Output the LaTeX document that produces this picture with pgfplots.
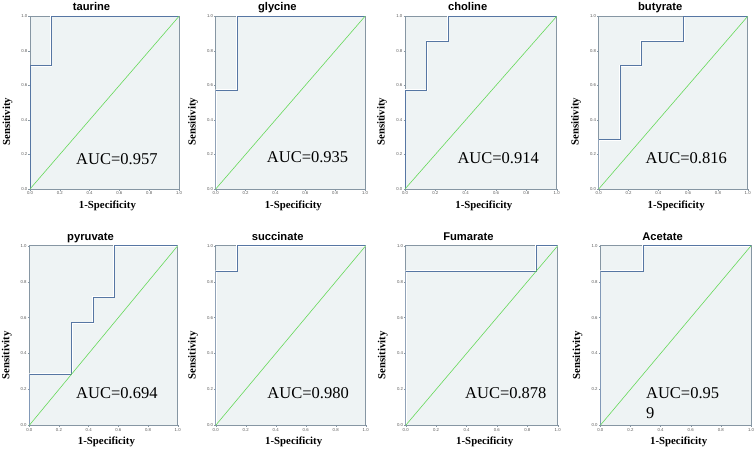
\documentclass[border=0pt]{standalone}
\usepackage{pgfplots}
\pgfplotsset{compat=1.18}
\usepackage{fontspec}
\setmainfont{Liberation Serif}
\setsansfont{Liberation Sans}
\definecolor{bgc}{HTML}{EEF3F4}
\definecolor{roc}{HTML}{5676A3}
\definecolor{diag}{HTML}{66D95A}
\definecolor{frame}{HTML}{8696A3}
\pgfplotsset{
  rocax/.style={
    scale only axis,
    xmin=0, xmax=1, ymin=0, ymax=1,
    axis background/.style={fill=bgc},
    axis line style={frame, line width=0.8pt},
    xtick={0,0.2,0.4,0.6,0.8,1}, ytick={0,0.2,0.4,0.6,0.8,1},
    tick pos=left, tick align=outside, major tick length=1.5pt,
    tick style={frame, line width=0.4pt},
    ticklabel style={font=\fontsize{4.3}{5}\selectfont\sffamily, text=black!65, inner sep=1pt},
    /pgf/number format/fixed, /pgf/number format/fixed zerofill,
    /pgf/number format/precision=1, /pgf/number format/assume math mode=true,
    xlabel={1-Specificity}, ylabel={Sensitivity},
    label style={font=\fontsize{10.8}{12}\selectfont\bfseries},
    xlabel style={at={(axis description cs:0.52,0)}, anchor=base, yshift=-19.5pt},
    ylabel style={at={(axis description cs:-0.134,0.39)}, anchor=base},
    every axis title shift=0pt,
    title style={at={(axis description cs:0.413,1)}, anchor=base, yshift=5.5pt,
      font=\fontsize{11.2}{13}\selectfont\sffamily\bfseries},
  },
  halo/.style={white, line width=2pt, forget plot},
  rocl/.style={roc, line width=0.9pt},
  diagl/.style={diag, line width=0.6pt},
}
\newcommand{\auc}{\fontsize{16.5}{20}\selectfont}
\begin{document}
\begin{tikzpicture}
\path[use as bounding box] (0,0) rectangle (756pt,451pt);
% ---------- top row ----------
\begin{axis}[rocax, at={(30pt,262pt)}, anchor=south west, width=149pt, height=172.7pt, title={taurine}]
\addplot[halo] coordinates {(0,0)(0,0.714)(0.143,0.714)(0.143,1)(1,1)};
\addplot[rocl] coordinates {(0,0)(0,0.714)(0.143,0.714)(0.143,1)(1,1)};
\addplot[diagl] coordinates {(0,0)(1,1)};
\node[anchor=base west, inner sep=0pt, font=\auc] at (rel axis cs:0.309,0.139) {AUC=0.957};
\end{axis}
\begin{axis}[rocax, at={(215.7pt,262pt)}, anchor=south west, width=149.3pt, height=172.7pt, title={glycine}]
\addplot[halo] coordinates {(0,0)(0,0.571)(0.143,0.571)(0.143,1)(1,1)};
\addplot[rocl] coordinates {(0,0)(0,0.571)(0.143,0.571)(0.143,1)(1,1)};
\addplot[diagl] coordinates {(0,0)(1,1)};
\node[anchor=base west, inner sep=0pt, font=\auc] at (rel axis cs:0.342,0.154) {AUC=0.935};
\end{axis}
\begin{axis}[rocax, at={(405pt,262pt)}, anchor=south west, width=151.7pt, height=172.7pt, title={choline}]
\addplot[halo] coordinates {(0,0)(0,0.571)(0.143,0.571)(0.143,0.857)(0.286,0.857)(0.286,1)(1,1)};
\addplot[rocl] coordinates {(0,0)(0,0.571)(0.143,0.571)(0.143,0.857)(0.286,0.857)(0.286,1)(1,1)};
\addplot[diagl] coordinates {(0,0)(1,1)};
\node[anchor=base west, inner sep=0pt, font=\auc] at (rel axis cs:0.345,0.15) {AUC=0.914};
\end{axis}
\begin{axis}[rocax, at={(598.7pt,262pt)}, anchor=south west, width=149pt, height=172.7pt, title={butyrate}]
\addplot[halo] coordinates {(0,0)(0,0.286)(0.143,0.286)(0.143,0.714)(0.286,0.714)(0.286,0.857)(0.571,0.857)(0.571,1)(1,1)};
\addplot[rocl] coordinates {(0,0)(0,0.286)(0.143,0.286)(0.143,0.714)(0.286,0.714)(0.286,0.857)(0.571,0.857)(0.571,1)(1,1)};
\addplot[diagl] coordinates {(0,0)(1,1)};
\node[anchor=base west, inner sep=0pt, font=\auc] at (rel axis cs:0.313,0.148) {AUC=0.816};
\end{axis}
% ---------- bottom row ----------
\begin{axis}[rocax, at={(29.3pt,25.7pt)}, anchor=south west, width=148.4pt, height=179.5pt, title={pyruvate}]
\addplot[halo] coordinates {(0,0)(0,0.286)(0.286,0.286)(0.286,0.571)(0.429,0.571)(0.429,0.714)(0.571,0.714)(0.571,1)(1,1)};
\addplot[rocl] coordinates {(0,0)(0,0.286)(0.286,0.286)(0.286,0.571)(0.429,0.571)(0.429,0.714)(0.571,0.714)(0.571,1)(1,1)};
\addplot[diagl] coordinates {(0,0)(1,1)};
\node[anchor=base west, inner sep=0pt, font=\auc] at (rel axis cs:0.315,0.149) {AUC=0.694};
\end{axis}
\begin{axis}[rocax, at={(215.7pt,25.7pt)}, anchor=south west, width=150pt, height=179.5pt, title={succinate}]
\addplot[halo] coordinates {(0,0)(0,0.857)(0.143,0.857)(0.143,1)(1,1)};
\addplot[rocl] coordinates {(0,0)(0,0.857)(0.143,0.857)(0.143,1)(1,1)};
\addplot[diagl] coordinates {(0,0)(1,1)};
\node[anchor=base west, inner sep=0pt, font=\auc] at (rel axis cs:0.344,0.148) {AUC=0.980};
\end{axis}
\begin{axis}[rocax, at={(405.7pt,25.7pt)}, anchor=south west, width=152pt, height=179.5pt, title={Fumarate}]
\addplot[halo] coordinates {(0,0)(0,0.857)(0.857,0.857)(0.857,1)(1,1)};
\addplot[rocl] coordinates {(0,0)(0,0.857)(0.857,0.857)(0.857,1)(1,1)};
\addplot[diagl] coordinates {(0,0)(1,1)};
\node[anchor=base west, inner sep=0pt, font=\auc] at (rel axis cs:0.39,0.149) {AUC=0.878};
\end{axis}
\begin{axis}[rocax, at={(600.3pt,25.7pt)}, anchor=south west, width=150.7pt, height=179.5pt, title={Acetate}]
\addplot[halo] coordinates {(0,0)(0,0.857)(0.286,0.857)(0.286,1)(1,1)};
\addplot[rocl] coordinates {(0,0)(0,0.857)(0.286,0.857)(0.286,1)(1,1)};
\addplot[diagl] coordinates {(0,0)(1,1)};
\node[anchor=base west, inner sep=0pt, font=\auc] at (rel axis cs:0.303,0.149) {AUC=0.95};
\node[anchor=base west, inner sep=0pt, font=\auc] at (rel axis cs:0.303,0.037) {9};
\end{axis}
\end{tikzpicture}
\end{document}
